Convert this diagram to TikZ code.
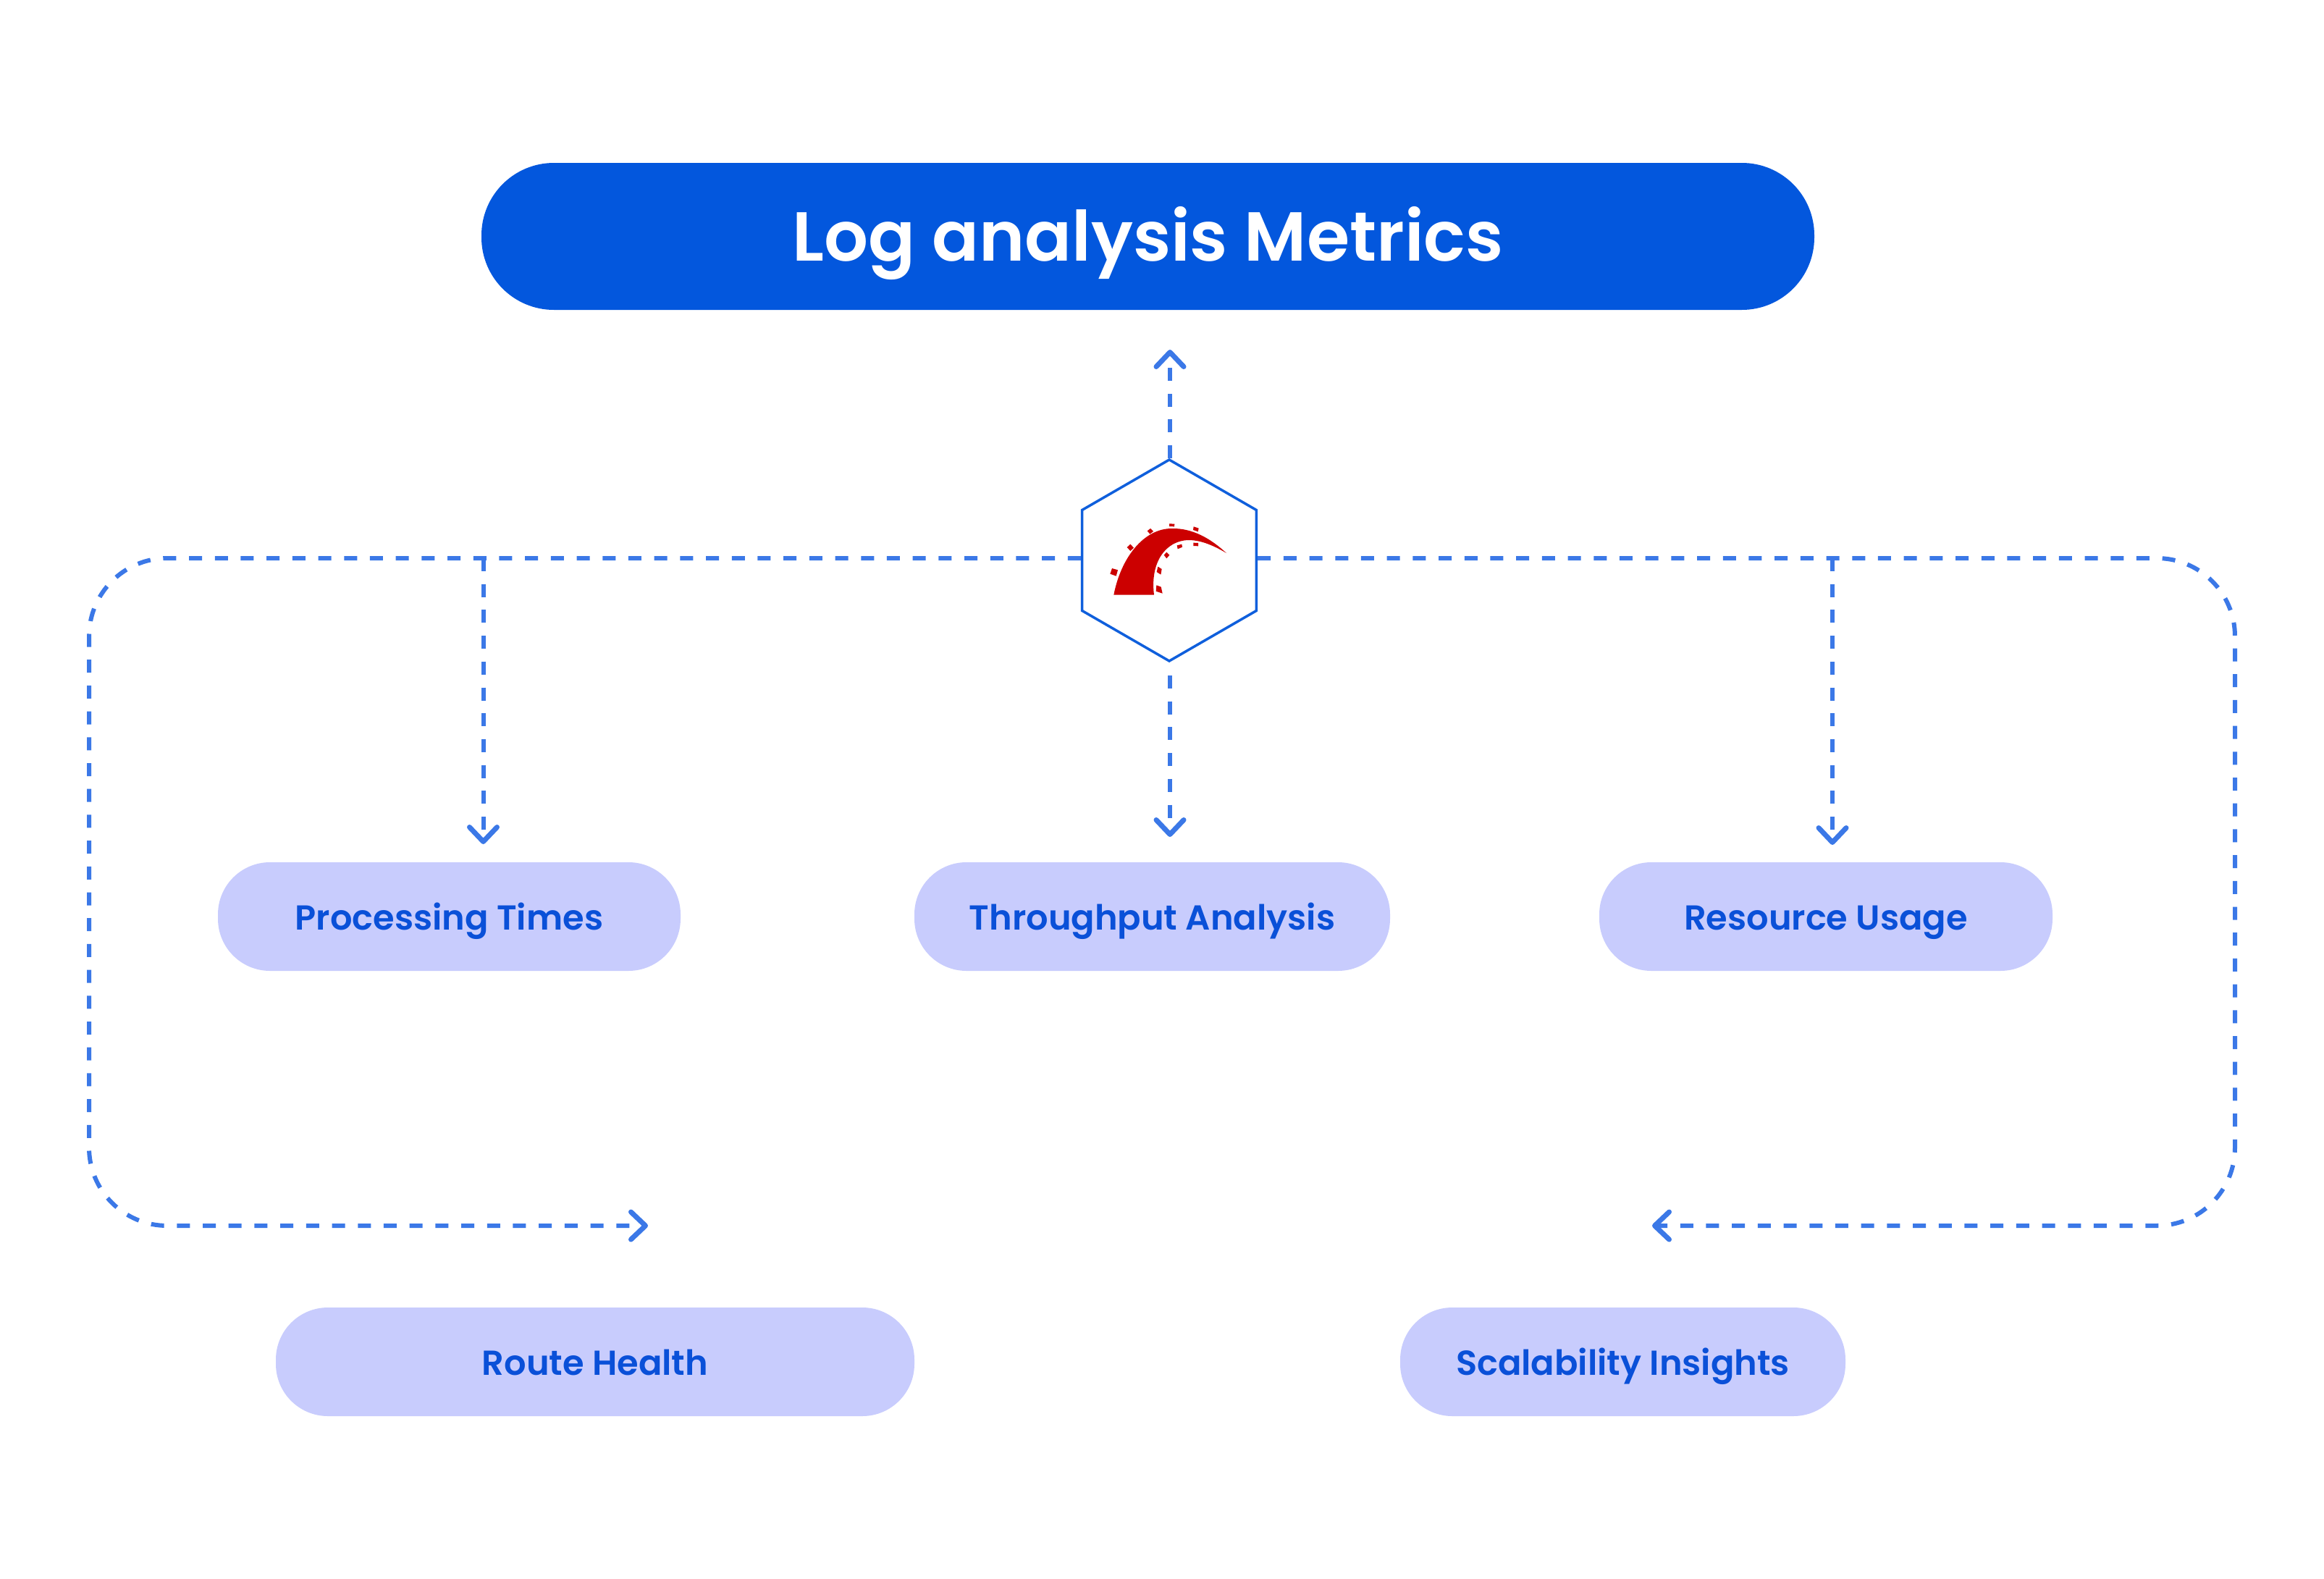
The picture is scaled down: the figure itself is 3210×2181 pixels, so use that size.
\documentclass[tikz,border=0pt]{standalone}
\usepackage{fontspec}
\setmainfont{Poppins}[UprightFont=* SemiBold,BoldFont=* SemiBold]
\usetikzlibrary{arrows.meta,shapes.geometric}
\definecolor{titleblue}{HTML}{0357DD}
\definecolor{pillfill}{HTML}{C8CCFD}
\definecolor{pilltext}{HTML}{0A50D8}
\definecolor{dashblue}{HTML}{3B78E7}
\definecolor{hexblue}{HTML}{0F5FDC}
\definecolor{railred}{HTML}{CC0000}
\tikzset{
  titlepill/.style={fill=titleblue,text=white,rounded corners=100pt,inner sep=0pt,minimum height=203pt,text height=68pt,text depth=0pt,font=\fontsize{95.8}{110}\selectfont},
  pill/.style={fill=pillfill,text=pilltext,rounded corners=72pt,inner sep=0pt,minimum height=150pt,text height=36pt,text depth=0pt,font=\fontsize{47.9}{58}\selectfont},
  flow/.style={draw=dashblue,line width=6pt,dash pattern=on 18pt off 17.7pt},
  tipped/.style={-{Straight Barb[length=20pt,width=38pt,line width=7pt,round]}},
  hexnode/.style={regular polygon,regular polygon sides=6,shape border rotate=30,minimum size=278pt,inner sep=0pt,draw=hexblue,line width=3.5pt,fill=white},
  dot/.style={fill=railred,draw=none}
}
\begin{document}
\begin{tikzpicture}[x=1pt,y=-1pt]
\useasboundingbox (0,0) rectangle (3210,2181);
\fill[white] (0,0) rectangle (3210,2181);
% free-end coordinates
\coordinate (tipTop) at (1616,483);
\coordinate (tipLeft) at (895,1693);
\coordinate (tipRight) at (2282,1693);
\coordinate (jL) at (667.5,771);
\coordinate (jR) at (2531,771);
\coordinate (tipP) at (667.5,1166);
\coordinate (tipT) at (1616,1156);
\coordinate (tipR) at (2531,1167);
\coordinate (startT) at (1616,933);
% nodes
\node[titlepill,minimum width=1841pt] (title) at (1585.5,326.5) {Log analysis Metrics};
\node[pill,minimum width=639pt] (proc) at (620.5,1266) {Processing Times};
\node[pill,minimum width=657pt] (thru) at (1591.5,1266) {Throughput Analysis};
\node[pill,minimum width=626pt] (res) at (2522,1266) {Resource Usage};
\node[pill,minimum width=882pt] (route) at (822,1881) {Route Health};
\node[pill,minimum width=615pt] (scal) at (2241.5,1881) {Scalability Insights};
\node[hexnode] (hex) at (1615,774) {};
% connectors
\draw[flow,tipped] (hex.north -| tipTop) -- (tipTop);
\draw[flow,tipped] (startT) -- (tipT);
\draw[flow,tipped] (jL) -- (tipP);
\draw[flow,tipped] (jR) -- (tipR);
\draw[flow,tipped,rounded corners=108pt] (hex.west |- jL) -- (123,771) -- (123,1693) -- (tipLeft);
\draw[flow,tipped,rounded corners=108pt] (hex.east |- jR) -- (3087,771) -- (3087,1693) -- (tipRight);
% rails logo
\begin{scope}[shift={(1440,600)},x=0.33333pt,y=-0.33333pt]
\fill[railred] (295,665) .. controls (325,510) and (420,390) .. (535,390)
  .. controls (620,388) and (695,430) .. (762,492)
  .. controls (700,455) and (650,438) .. (605,438)
  .. controls (510,440) and (445,530) .. (462,665) -- cycle;
\fill[dot] (288,555) -- (312,562) -- (305,587) -- (280,578) -- cycle;
\fill[dot] (364,455) -- (378,470) -- (364,483) -- (350,468) -- cycle;
\fill[dot] (447,390) -- (459,402) -- (445,413) -- (434,400) -- cycle;
\fill[dot] (525,370) -- (547,371) -- (546,382) -- (525,381) -- cycle;
\fill[dot] (626,382) -- (647,389) -- (644,403) -- (624,396) -- cycle;
\fill[dot] (557,460) -- (577,455) -- (579,467) -- (560,475) -- cycle;
\fill[dot] (625,449) -- (645,450) -- (645,463) -- (625,462) -- cycle;
\fill[dot] (514,488) -- (526,500) -- (514,514) -- (503,500) -- cycle;
\fill[dot] (478,548) -- (494,558) -- (490,581) -- (473,570) -- cycle;
\fill[dot] (472,625) -- (491,632) -- (497,659) -- (470,650) -- cycle;
\end{scope}
\end{tikzpicture}
\end{document}
